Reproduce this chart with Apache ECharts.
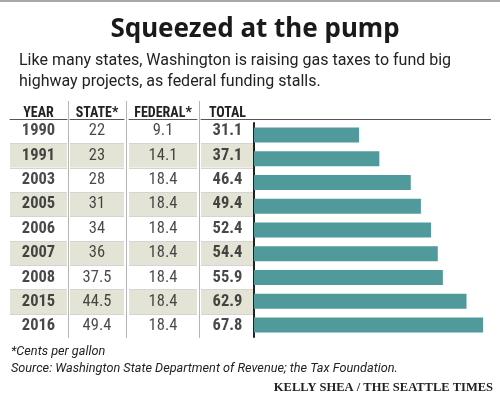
<!DOCTYPE html>
<html><head><meta charset="utf-8">
<script src="https://cdn.jsdelivr.net/npm/echarts@6/dist/echarts.min.js"></script>
<style>html,body{margin:0;padding:0;background:#fff}#c{width:500px;height:395px}</style>
</head><body><div id="c"></div>
<script>
const years = ['1990','1991','2003','2005','2006','2007','2008','2015','2016'];
const stateTax = ['22','23','28','31','34','36','37.5','44.5','49.4'];
const federalTax = ['9.1','14.1','18.4','18.4','18.4','18.4','18.4','18.4','18.4'];
const totalTax = [31.1,37.1,46.4,49.4,52.4,54.4,55.9,62.9,67.8];
const headers = ['YEAR','STATE*','FEDERAL*','TOTAL'];

const narrow = '"Liberation Sans Narrow","Roboto Condensed",Roboto,sans-serif';
const cols = [
  {left:10, width:57, texts:years, bold:true},
  {left:70, width:54, texts:stateTax, bold:false},
  {left:129, width:68, texts:federalTax, bold:false},
  {left:201, width:53, texts:totalTax.map(v=>v.toFixed(1)), bold:true}
];
const grids=[], xAxes=[], yAxes=[], series=[];
cols.forEach((c,i)=>{
  grids.push({left:c.left, top:119, width:c.width, height:219.5});
  xAxes.push({gridIndex:i, type:'value', min:0, max:1, position:'top',
    axisLine:{show:true, lineStyle:{color:'#555', width:1}}, axisTick:{show:false},
    axisLabel:{show:false}, splitLine:{show:false},
    name:headers[i], nameLocation:'middle', nameGap:-1,
    nameTextStyle:{fontFamily:narrow, fontWeight:'bold', fontSize:14, color:'#222'}});
  yAxes.push({gridIndex:i, type:'category', data:years, inverse:true,
    axisLine:{show:false}, axisTick:{show:false}, axisLabel:{show:false},
    splitArea:{show:true, areaStyle:{color:['#ffffff','#e4e4d6']}},
    splitLine:{show:true, showMinLine:false, showMaxLine:false, lineStyle:{color:'#d4d4d4', width:1}}});
  series.push({type:'scatter', xAxisIndex:i, yAxisIndex:i, symbolSize:1,
    itemStyle:{color:'rgba(0,0,0,0)'}, silent:true, z:5,
    data:years.map(y=>[0.5,y]),
    label:{show:true, position:'inside', formatter:p=>c.texts[p.dataIndex],
      fontFamily:narrow, fontSize:16.5, fontWeight:c.bold?'bold':'normal', color:'#1a1a1a'}});
});
grids.push({left:254, top:123, width:236.5, height:214});
xAxes.push({gridIndex:4, type:'value', min:0, max:70, position:'top', offset:4,
  axisLine:{show:true, lineStyle:{color:'#555', width:1}}, axisTick:{show:false},
  axisLabel:{show:false}, splitLine:{show:false}});
yAxes.push({gridIndex:4, type:'category', data:years, inverse:true,
  axisLine:{show:true, lineStyle:{color:'#222', width:2}}, axisTick:{show:false},
  axisLabel:{show:false}, splitLine:{show:false}});
series.push({type:'bar', xAxisIndex:4, yAxisIndex:4, data:totalTax, barWidth:15,
  itemStyle:{color:'#519a9b'}, silent:true});

const sep = x => ({type:'line', shape:{x1:x, y1:101, x2:x, y2:338}, style:{stroke:'#b5b5b5', lineWidth:1}});
const chart = echarts.init(document.getElementById('c'));
chart.setOption({
  animation:false,
  grid:grids, xAxis:xAxes, yAxis:yAxes, series:series,
  graphic:[
    {type:'rect', shape:{x:0, y:0, width:500, height:2}, style:{fill:'#a8a8a8'}},
    {type:'text', style:{text:'Squeezed at the pump', x:255, y:30, textAlign:'center', textVerticalAlign:'middle',
      font:'bold 26px "Noto Sans", sans-serif', fill:'#1a1a1a'}},
    {type:'text', style:{text:'Like many states, Washington is raising gas taxes to fund big', x:19, y:61, textVerticalAlign:'middle',
      font:'16px Roboto, sans-serif', fill:'#222'}},
    {type:'text', style:{text:'highway projects, as federal funding stalls.', x:19, y:82, textVerticalAlign:'middle',
      font:'16px Roboto, sans-serif', fill:'#222'}},
    sep(68.5), sep(126.5), sep(199.5),
    {type:'text', style:{text:'*Cents per gallon', x:11, y:352, textVerticalAlign:'middle',
      font:'italic 12.7px Roboto, sans-serif', fill:'#222'}},
    {type:'text', style:{text:'Source: Washington State Department of Revenue; the Tax Foundation.', x:11, y:369, textVerticalAlign:'middle',
      font:'italic 12.7px Roboto, sans-serif', fill:'#222'}},
    {type:'text', style:{text:'KELLY SHEA / THE SEATTLE TIMES', x:493, y:388, textAlign:'right', textVerticalAlign:'middle',
      font:'bold 12.5px "Liberation Serif", serif', fill:'#222'}}
  ]
});
</script></body></html>
